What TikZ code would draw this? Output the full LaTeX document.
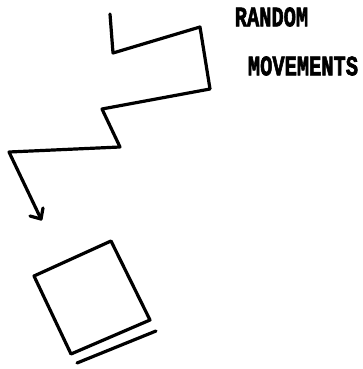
\documentclass[tikz,border=0pt]{standalone}
\usepackage{fontspec}
\newfontfamily\labelfont[BoldFeatures={FakeBold=2.5}]{Liberation Mono}
\newcommand{\tallword}[1]{\scalebox{1}[1.38]{#1}}
\begin{document}
\begin{tikzpicture}[x=1pt,y=-1pt,
  stroke/.style={line width=3.2pt,line join=round,line cap=round},
  lbl/.style={font=\labelfont\bfseries\fontsize{20.4}{24}\selectfont,inner sep=0pt}]
\useasboundingbox (0,0) rectangle (363,369);
% random walk
\coordinate (p0) at (110,14);
\coordinate (p1) at (113,53);
\coordinate (p2) at (200,27);
\coordinate (p3) at (210,89);
\coordinate (p4) at (102,109);
\coordinate (p5) at (120,147);
\coordinate (p6) at (9,152);
\coordinate (p7) at (41,219);
\coordinate (b1) at (30,216);
\coordinate (b2) at (43,208);
\draw[stroke] (p0) -- (p1) -- (p2) -- (p3) -- (p4) -- (p5) -- (p6) -- (p7);
\draw[stroke] (b1) -- (p7) -- (b2);
% square
\coordinate (s1) at (34,276);
\coordinate (s2) at (111,241);
\coordinate (s3) at (150,320);
\coordinate (s4) at (71,354);
\draw[stroke] (s1) -- (s2) -- (s3) -- (s4) -- cycle;
\coordinate (u1) at (77,363);
\coordinate (u2) at (156,331);
\draw[stroke] (u1) -- (u2);
% labels
\node[lbl] (random) at (271.5,17) {\tallword{RANDOM}};
\node[lbl] (moves) at (303,66) {\tallword{MOVEMENTS}};
\end{tikzpicture}
\end{document}
